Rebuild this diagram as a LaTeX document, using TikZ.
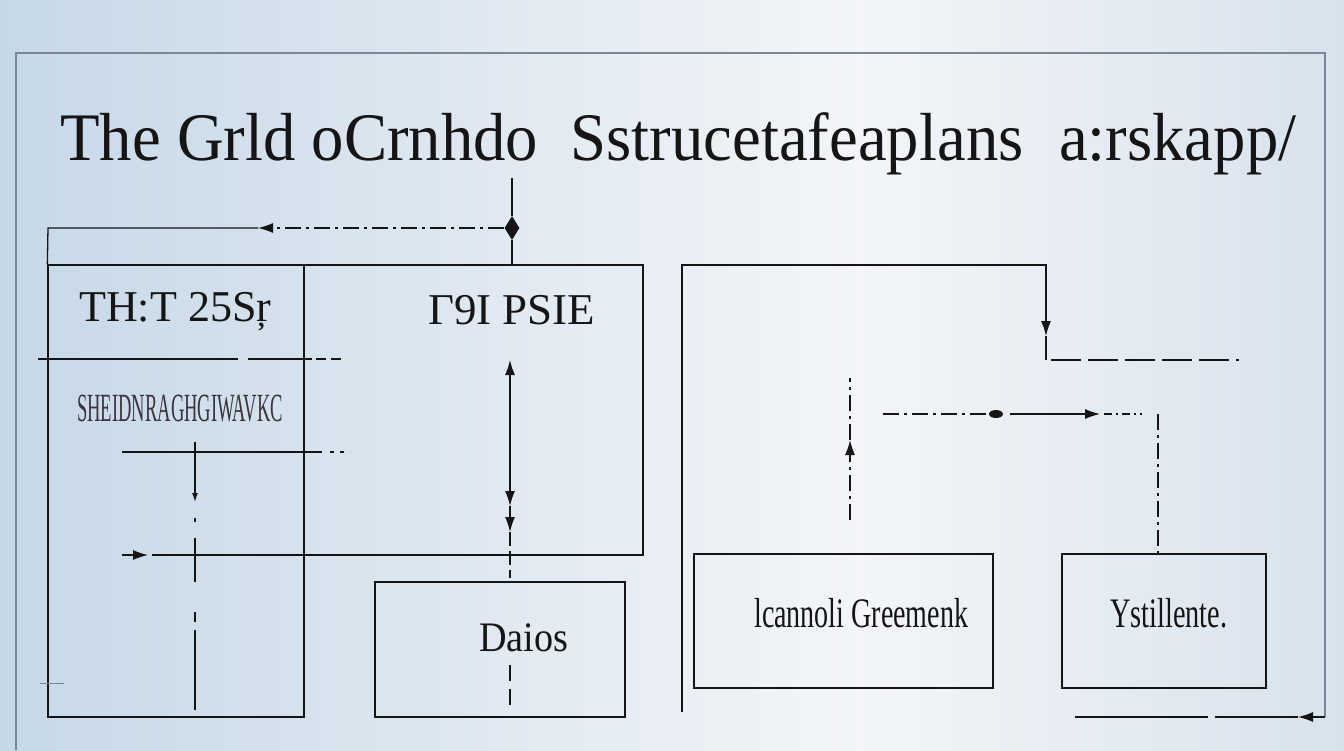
\documentclass[tikz,border=0pt]{standalone}
\usepackage{fontspec}
\setmainfont{Liberation Serif}
\usepackage{graphicx}
\usetikzlibrary{arrows.meta,shapes.geometric}
\definecolor{ink}{HTML}{151515}
\definecolor{framec}{HTML}{7a8896}
\definecolor{bgA}{HTML}{93b5d4}
\definecolor{bgB}{HTML}{c2d5e6}
\definecolor{bgC}{HTML}{f3f5f8}
\definecolor{bgD}{HTML}{d0dde9}
\definecolor{bgE}{HTML}{9cbcd8}
\definecolor{lblink}{HTML}{3a3440}
\pgfdeclarehorizontalshading{bgshade}{100bp}{color(0bp)=(bgA); color(22bp)=(bgB); color(57bp)=(bgC); color(80bp)=(bgD); color(100bp)=(bgE)}
\newcommand{\fitw}[3]{\resizebox{#1pt}{\height}{\fontsize{#2}{#2}\selectfont #3}}
\tikzset{
  box/.style={draw=ink, line width=1.3pt, inner sep=0pt},
  wire/.style={draw=ink, line width=1.3pt},
  thinframe/.style={draw=framec, line width=1.2pt},
  dashdot/.style={wire, dash pattern=on 16pt off 5pt on 3pt off 5pt},
  dashline/.style={wire, dash pattern=on 30pt off 7pt},
  tip/.style={-{Latex[length=15pt,width=10pt]}},
  lbl/.style={inner sep=0pt, anchor=base west, text=ink},
}
\begin{document}
\begin{tikzpicture}[x=1pt,y=-1pt]
\useasboundingbox (0,0) rectangle (1344,750);
\shade[shading=bgshade] (0,0) rectangle (1344,750);

% outer frame
\coordinate (f1) at (16,750);
\coordinate (f2) at (16,53);
\coordinate (f3) at (1325,53);
\coordinate (f4) at (1325,717);
\draw[thinframe] (f1) -- (f2) -- (f3) -- (f4);

% title
\node[lbl] (title) at (60,160) {\fitw{1236}{68}{The Grld oCrnhdo\hspace{0.5em}Sstrucetafeaplans\hspace{0.55em}a:rskapp/}};

% boxes
\node[box, minimum width=256pt, minimum height=452pt] (L) at (176,491) {};
\node[box, minimum width=339pt, minimum height=290pt] (U) at (473.5,410) {};
\node[box, minimum width=250pt, minimum height=135pt] (D) at (500,649.5) {};
\node[box, minimum width=299pt, minimum height=134pt] (R1) at (843.5,621) {};
\node[box, minimum width=204pt, minimum height=134pt] (R2) at (1164,621) {};

% labels
\node[lbl] (l1) at (79,321) {\fitw{192}{44}{TH:T 25Sŗ}};
\node[lbl] (l2) at (428,324) {\fitw{167}{44}{Γ9I PSIE}};
\node[lbl, text=lblink] (l3) at (77,421) {\fitw{206}{40}{SHEIDNRAGHGIWAVKC}};
\node[lbl] (l4) at (479,651) {\fitw{89}{42}{Daios}};
\node[lbl] (l5) at (754,627) {\fitw{214}{42}{lcannoli Greemenk}};
\node[lbl] (l6) at (1110,627) {\fitw{117}{42}{Ystillente.}};

% top-left connector
\coordinate (tl1) at (48,228);
\coordinate (a1) at (258,228);
\coordinate (vt) at (512,178);
\node[diamond, fill=ink, inner sep=0pt, minimum width=15pt, minimum height=24pt] (dm) at (512,228) {};
\draw[wire] (L.north west) -- (tl1) -- (a1);
\draw[dashdot, tip] (dm) -- (a1);
\draw[wire] (vt) -- (dm) -- (dm |- U.north);

% left column dividers
\draw[wire] (38,359) -- (238,359);
\draw[wire] (248,359) -- (312,359);
\draw[wire, dash pattern=on 10pt off 5pt] (316,359) -- (342,359);
\draw[wire, line width=1.1pt] (122,452) -- (322,452);
\draw[wire, line width=1.1pt, dash pattern=on 4pt off 6pt] (330,452) -- (350,452);

% left vertical x=195
\coordinate (c1) at (195,442);
\coordinate (c2) at (195,502);
\draw[wire, -{Latex[length=9pt,width=6pt]}] (c1) -- (c2);
\draw[wire] (195,518) -- (195,522);
\draw[wire] (195,538) -- (195,582);
\draw[wire] (195,612) -- (195,622);
\draw[wire] (195,630) -- (195,710);

% horizontal y=555
\coordinate (h1) at (122,555);
\coordinate (h2) at (148,555);
\draw[wire, tip] (h1) -- (h2);
\draw[wire] (152,555) -- (322,555);
\draw[wire, dash pattern=on 6pt off 5pt] (326,555) -- (356,555);

% vertical x=510 inside U
\coordinate (v1) at (510,360);
\coordinate (v2) at (510,506);
\coordinate (v3) at (510,532);
\draw[wire, {Latex[length=15pt,width=10pt]}-{Latex[length=15pt,width=10pt]}] (v1) -- (v2);
\draw[wire, tip] (v2) -- (v3);
\draw[wire, dash pattern=on 14pt off 5pt] (v3) -- (510,578);
\draw[wire, dash pattern=on 16pt off 8pt] (510,665) -- (510,710);

% small marks
\draw[wire, line width=2.8pt] (48,648) -- (48,690);
\draw[draw=framec, line width=0.8pt] (40,683) -- (64,683);
\draw[wire, line width=2.4pt] (375,672) -- (375,700);
\draw[wire, line width=2.8pt] (694,590) -- (694,648);

% right side
\coordinate (r0) at (682,712);
\coordinate (r1) at (682,265);
\coordinate (r2) at (1046,265);
\coordinate (r3) at (1046,336);
\coordinate (r4) at (1046,360);
\draw[wire, tip] (r0) -- (r1) -- (r2) -- (r3);
\draw[wire] (r3) -- (r4);
\draw[dashline] (1051,360) -- (1239,360);

% dash-dot vertical x=850
\coordinate (u1) at (850,520);
\coordinate (u2) at (850,440);
\coordinate (u3) at (850,378);
\draw[dashdot, tip] (u1) -- (u2);
\draw[dashdot] (u2) -- (u3);

% dash-dot horizontal y=414 and vertical to R2
\coordinate (w1) at (883,414);
\coordinate (w2) at (1010,414);
\coordinate (w3) at (1100,414);
\coordinate (w4) at (1158,414);
\draw[dashdot] (w1) -- (988,414);
\node[ellipse, fill=ink, inner sep=0pt, minimum width=14pt, minimum height=8pt] (blob) at (996,414) {};
\draw[wire, tip] (w2) -- (w3);
\draw[wire, dash pattern=on 8pt off 4pt on 2pt off 4pt] (1104,414) -- (1142,414);
\draw[dashdot] (w4) -- (R2.north -| w4);

% bottom right arrow
\coordinate (b1) at (1298,717);
\draw[wire, tip] (f4) -- (b1);
\draw[wire] (b1) -- (1215,717);
\draw[wire] (1208,717) -- (1075,717);
\end{tikzpicture}
\end{document}
